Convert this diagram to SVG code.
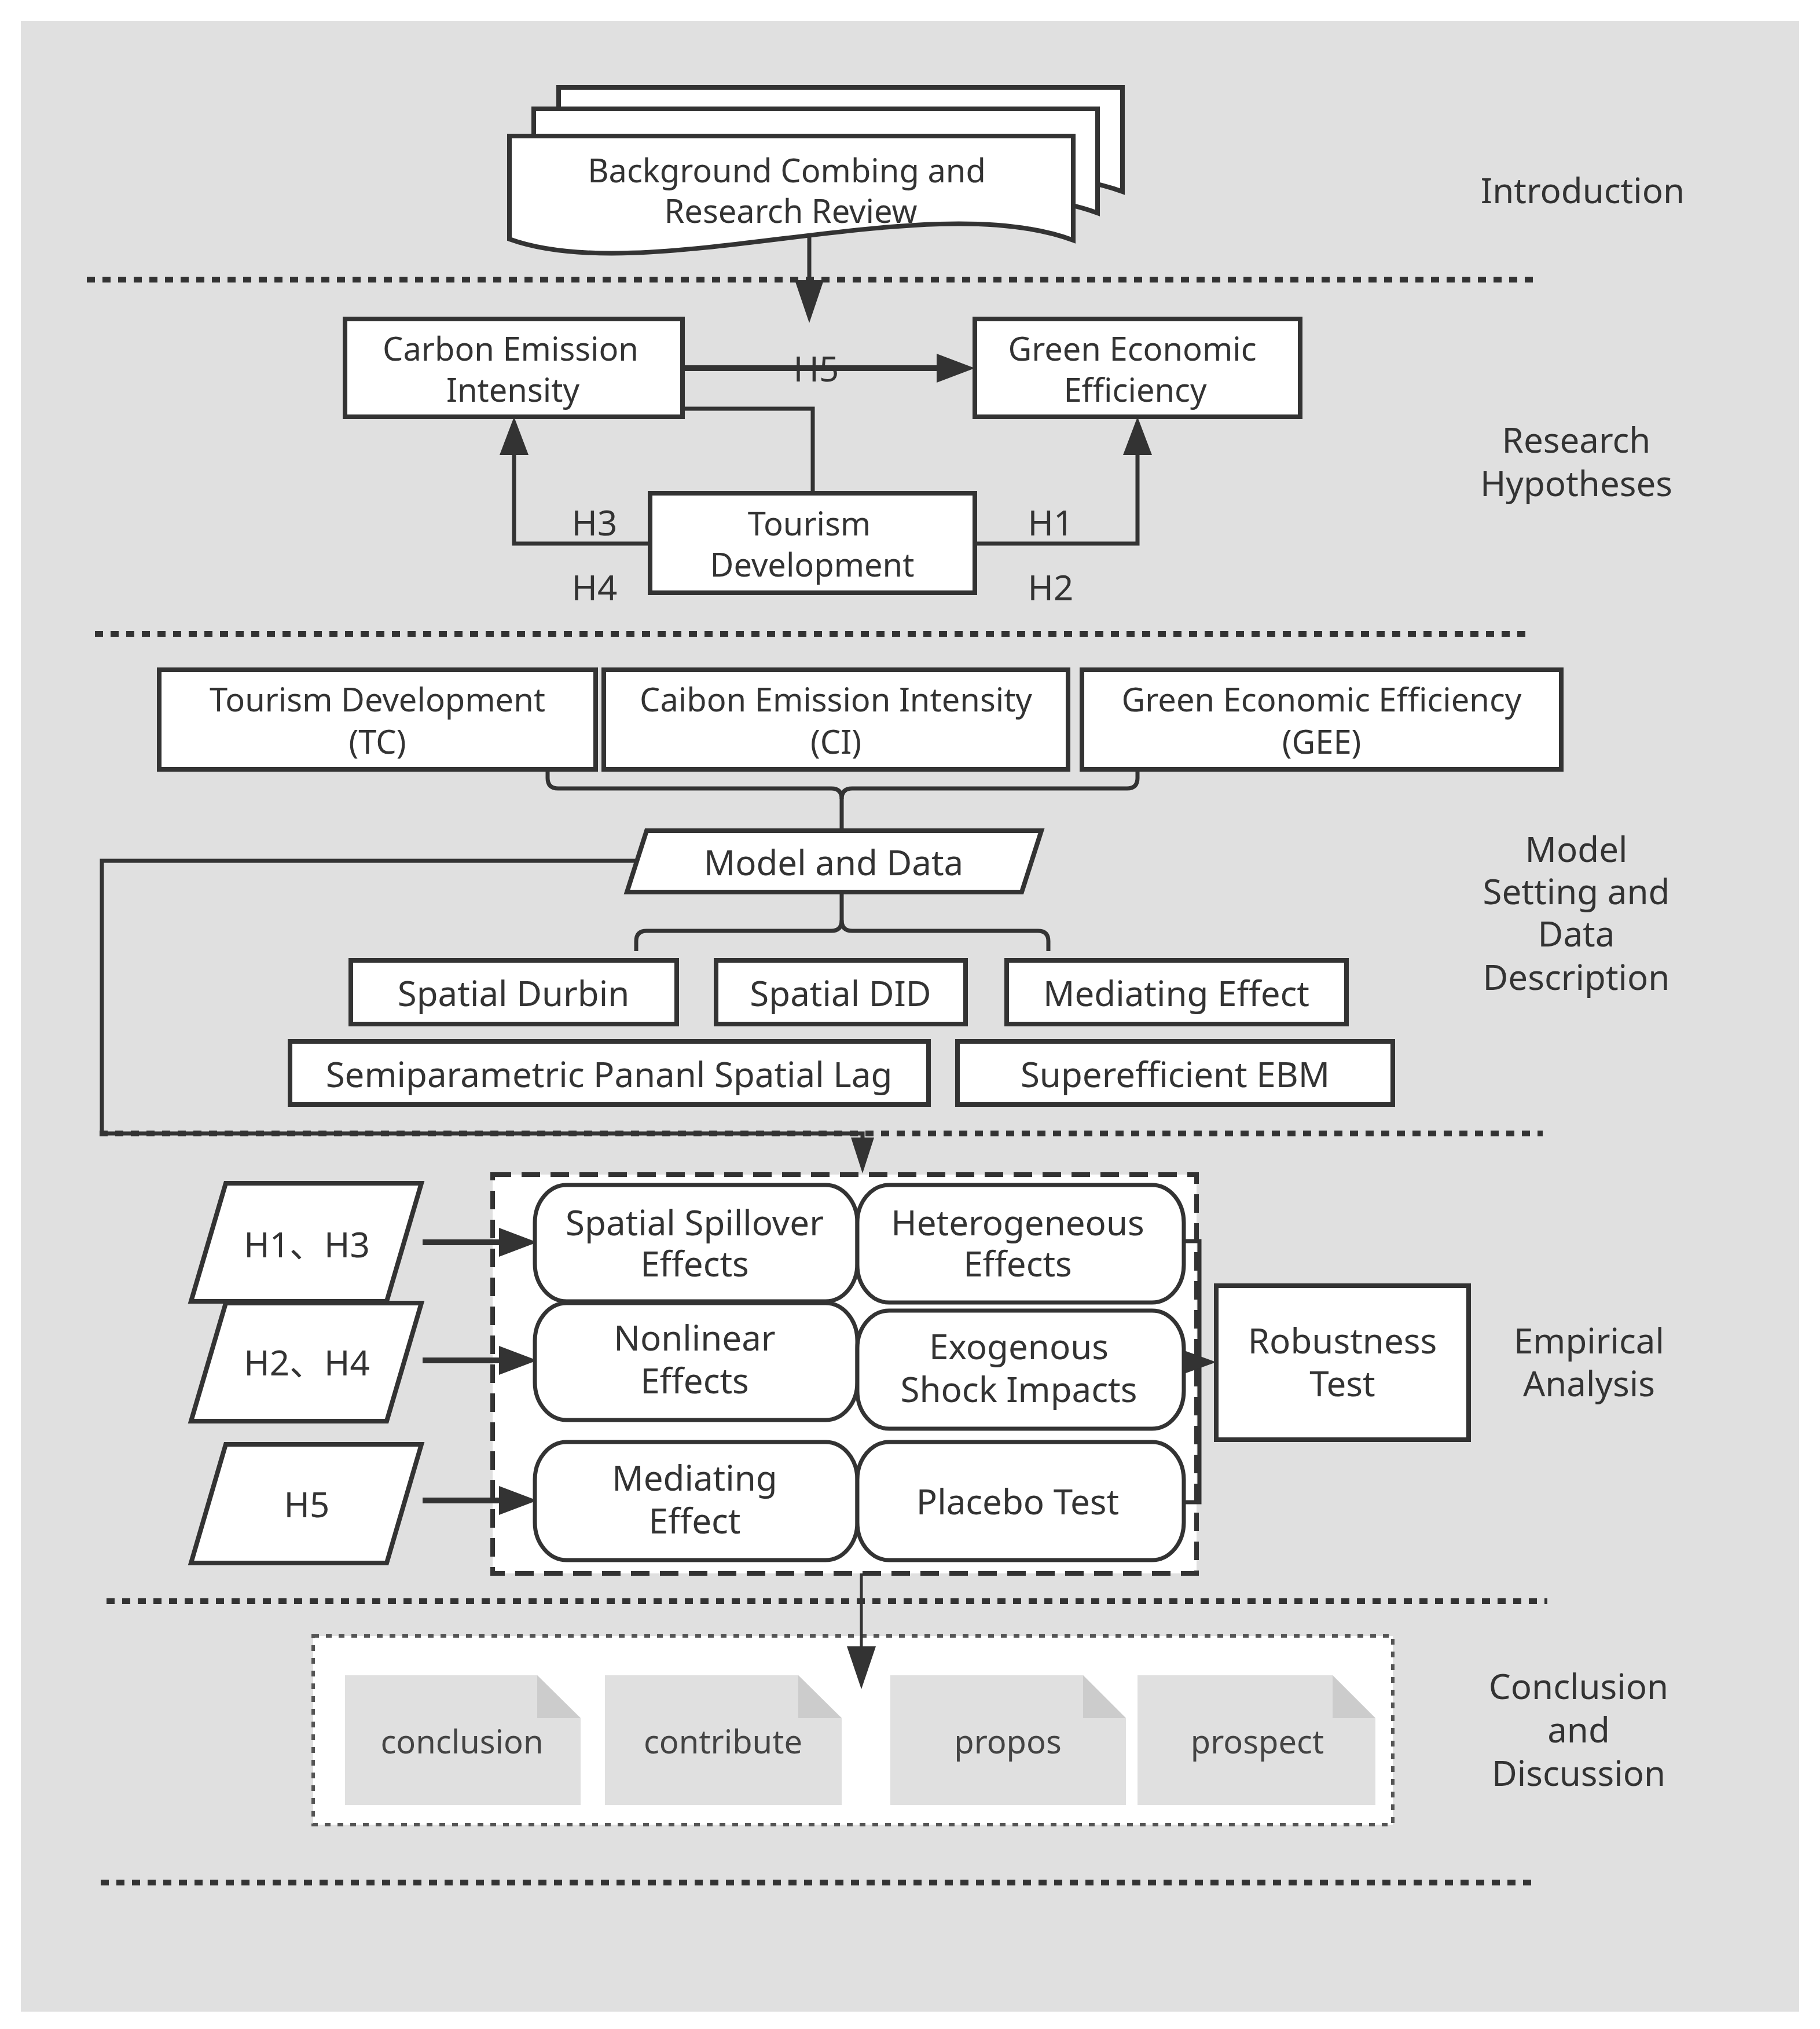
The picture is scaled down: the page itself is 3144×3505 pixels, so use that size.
<svg xmlns="http://www.w3.org/2000/svg" width="3144" height="3505" viewBox="0 0 3144 3505">
<style>
text{font-family:"Noto Sans","Open Sans","Noto Sans CJK SC",sans-serif;fill:#333;text-anchor:middle}
.t56{font-size:56px}
.t60{font-size:60px}
.box{fill:#fff;stroke:#333;stroke-width:8}
.rbox{fill:#fff;stroke:#333;stroke-width:7}
.sep{stroke:#333;stroke-width:10;stroke-dasharray:14 13;fill:none}
.con{stroke:#333;stroke-width:7;fill:none}
.doc{fill:#e0e0e0}
.fold{fill:#cccccc}
.dt{fill:#444}
</style>
<defs>
<marker id="aN" markerUnits="userSpaceOnUse" markerWidth="74" markerHeight="50" refX="0" refY="25" orient="auto"><path d="M0,0 L74,25 L0,50 Z" fill="#333"/></marker>
<marker id="aW" markerUnits="userSpaceOnUse" markerWidth="66" markerHeight="50" refX="0" refY="25" orient="auto"><path d="M0,0 L66,25 L0,50 Z" fill="#333"/></marker>
<marker id="aS" markerUnits="userSpaceOnUse" markerWidth="62" markerHeight="40" refX="0" refY="20" orient="auto"><path d="M0,0 L62,20 L0,40 Z" fill="#333"/></marker>
<marker id="aR" markerUnits="userSpaceOnUse" markerWidth="58" markerHeight="42" refX="0" refY="21" orient="auto"><path d="M0,0 L58,21 L0,42 Z" fill="#333"/></marker>
</defs>
<rect x="0" y="0" width="3144" height="3505" fill="#fff"/>
<rect x="36" y="36" width="3072" height="3439" fill="#e0e0e0"/>

<g id="separators">
<line class="sep" x1="150" y1="483" x2="2657" y2="483"/>
<line class="sep" x1="164" y1="1095" x2="2643" y2="1095"/>
<line class="sep" x1="172" y1="1958" x2="2665" y2="1958"/>
<line class="sep" x1="184" y1="2766" x2="2673" y2="2766"/>
<line class="sep" x1="174" y1="3252" x2="2657" y2="3252"/>
</g>

<g id="section-labels" class="t60">
<text x="2734" y="351">Introduction</text>
<text x="2723" y="782">Research</text>
<text x="2723" y="857">Hypotheses</text>
<text x="2723" y="1489">Model</text>
<text x="2723" y="1562">Setting and</text>
<text x="2723" y="1635">Data</text>
<text x="2723" y="1710">Description</text>
<text x="2745" y="2338">Empirical</text>
<text x="2745" y="2412">Analysis</text>
<text x="2727" y="2935">Conclusion</text>
<text x="2727" y="3010">and</text>
<text x="2727" y="3085">Discussion</text>
</g>

<g id="n-empirical-group">
<rect x="851" y="2029" width="1216" height="689" fill="#fff" stroke="#333" stroke-width="8" stroke-dasharray="32 18"/>
</g>
<g id="n-conclusion-group">
<rect x="541" y="2826" width="1865" height="326" fill="#fff" stroke="#555" stroke-width="6" stroke-dasharray="10 12"/>
</g>

<g id="n-background">
<path class="box" d="M965,151 H1939 V331 C1685,236 1205,416 965,329 Z"/>
<path class="box" d="M922,188 H1896 V368 C1642,273 1162,453 922,366 Z"/>
<path class="box" d="M880,235 H1854 V415 C1600,320 1120,500 880,413 Z"/>
<text class="t56" x="1359" y="315">Background Combing and</text>
<text class="t56" x="1366" y="385">Research Review</text>
</g>

<g id="connectors">
<line class="con" x1="1398" y1="405" x2="1398" y2="484" marker-end="url(#aN)"/>
<line class="con" style="stroke-width:10" x1="1179" y1="636" x2="1618" y2="636" marker-end="url(#aW)"/>
<path class="con" d="M1179,706 H1404 V852"/>
<path class="con" d="M1123,939 H888 V786" marker-end="url(#aW)"/>
<path class="con" d="M1684,939 H1965 V786" marker-end="url(#aW)"/>
<path class="con" d="M946,1329 V1344 Q946,1362 964,1362 H1436 Q1454,1362 1454,1380 V1435"/>
<path class="con" d="M1965,1329 V1344 Q1965,1362 1947,1362 H1472 Q1454,1362 1454,1380"/>
<path class="con" d="M1454,1541 V1590 Q1454,1608 1436,1608 H1117 Q1099,1608 1099,1626 V1643"/>
<path class="con" d="M1454,1590 Q1454,1608 1472,1608 H1793 Q1811,1608 1811,1626 V1643"/>
<path class="con" d="M1100,1487 H176 V1958 H1490 V1965" marker-end="url(#aS)"/>
<line class="con" style="stroke-width:10" x1="730" y1="2146" x2="862" y2="2146" marker-end="url(#aW)"/>
<line class="con" style="stroke-width:10" x1="730" y1="2350" x2="862" y2="2350" marker-end="url(#aW)"/>
<line class="con" style="stroke-width:10" x1="730" y1="2592" x2="862" y2="2592" marker-end="url(#aW)"/>
<path class="con" d="M2045,2144 H2072 V2595 H2045"/>
<path class="con" style="stroke-width:4" d="M2042,2353 H2043" marker-end="url(#aR)"/>
<line class="con" style="stroke-width:5" x1="1488" y1="2718" x2="1488" y2="2844" marker-end="url(#aN)"/>
</g>

<g id="n-cei">
<rect class="box" x="596" y="551" width="583" height="169"/>
<text class="t56" x="882" y="623">Carbon Emission</text>
<text class="t56" x="886" y="694">Intensity</text>
</g>
<g id="n-gee">
<rect class="box" x="1684" y="551" width="562" height="169"/>
<text class="t56" x="1956" y="623">Green Economic</text>
<text class="t56" x="1961" y="694">Efficiency</text>
</g>
<g id="n-td">
<rect class="box" x="1123" y="852" width="561" height="172"/>
<text class="t56" x="1398" y="925">Tourism</text>
<text class="t56" x="1403" y="996">Development</text>
</g>
<g id="hyp-labels" class="t60">
<text x="1410" y="659">H5</text>
<text x="1027" y="925">H3</text>
<text x="1027" y="1037">H4</text>
<text x="1815" y="925">H1</text>
<text x="1815" y="1037">H2</text>
</g>

<g id="n-tc">
<rect class="box" x="275" y="1157" width="754" height="172"/>
<text class="t56" x="652" y="1229">Tourism Development</text>
<text class="t56" x="652" y="1302">(TC)</text>
</g>
<g id="n-ci">
<rect class="box" x="1043" y="1157" width="802" height="172"/>
<text class="t56" x="1444" y="1229">Caibon Emission Intensity</text>
<text class="t56" x="1444" y="1302">(CI)</text>
</g>
<g id="n-gee2">
<rect class="box" x="1869" y="1157" width="828" height="172"/>
<text class="t56" x="2283" y="1229">Green Economic Efficiency</text>
<text class="t56" x="2283" y="1302">(GEE)</text>
</g>
<g id="n-model">
<polygon class="box" points="1117,1435 1799,1435 1765,1541 1083,1541"/>
<text class="t60" x="1440" y="1512">Model and Data</text>
</g>
<g id="n-sd">
<rect class="box" x="606" y="1659" width="563" height="110"/>
<text class="t60" x="887" y="1738">Spatial Durbin</text>
</g>
<g id="n-sdid">
<rect class="box" x="1237" y="1659" width="431" height="110"/>
<text class="t60" x="1452" y="1738">Spatial DID</text>
</g>
<g id="n-me">
<rect class="box" x="1739" y="1659" width="587" height="110"/>
<text class="t60" x="2032" y="1738">Mediating Effect</text>
</g>
<g id="n-spsl">
<rect class="box" x="501" y="1799" width="1103" height="109"/>
<text class="t60" x="1052" y="1878">Semiparametric Pananl Spatial Lag</text>
</g>
<g id="n-ebm">
<rect class="box" x="1654" y="1799" width="752" height="109"/>
<text class="t60" x="2030" y="1878">Superefficient EBM</text>
</g>

<g id="n-h13">
<polygon class="box" points="390,2044 728,2044 668,2248 330,2248"/>
<text class="t60" x="530" y="2172">H1、H3</text>
</g>
<g id="n-h24">
<polygon class="box" points="390,2251 728,2251 668,2455 330,2455"/>
<text class="t60" x="530" y="2376">H2、H4</text>
</g>
<g id="n-h5">
<polygon class="box" points="390,2495 728,2495 668,2700 330,2700"/>
<text class="t60" x="530" y="2621">H5</text>
</g>
<g id="n-sse">
<rect class="rbox" x="924" y="2047" width="557" height="201" rx="55" ry="65"/>
<text class="t60" x="1200" y="2134">Spatial Spillover</text>
<text class="t60" x="1200" y="2205">Effects</text>
</g>
<g id="n-he">
<rect class="rbox" x="1481" y="2047" width="564" height="203" rx="55" ry="65"/>
<text class="t60" x="1758" y="2134">Heterogeneous</text>
<text class="t60" x="1758" y="2205">Effects</text>
</g>
<g id="n-ne">
<rect class="rbox" x="924" y="2251" width="557" height="202" rx="55" ry="65"/>
<text class="t60" x="1200" y="2333">Nonlinear</text>
<text class="t60" x="1200" y="2407">Effects</text>
</g>
<g id="n-esi">
<rect class="rbox" x="1481" y="2264" width="564" height="204" rx="55" ry="65"/>
<text class="t60" x="1760" y="2348">Exogenous</text>
<text class="t60" x="1760" y="2422">Shock Impacts</text>
</g>
<g id="n-mef">
<rect class="rbox" x="924" y="2491" width="557" height="204" rx="55" ry="65"/>
<text class="t60" x="1200" y="2575">Mediating</text>
<text class="t60" x="1200" y="2649">Effect</text>
</g>
<g id="n-pt">
<rect class="rbox" x="1481" y="2491" width="564" height="204" rx="55" ry="65"/>
<text class="t60" x="1758" y="2616">Placebo Test</text>
</g>
<g id="n-rt">
<rect class="box" x="2101" y="2221" width="436" height="266"/>
<text class="t60" x="2319" y="2338">Robustness</text>
<text class="t60" x="2319" y="2412">Test</text>
</g>

<g id="n-conclusion">
<polygon class="doc" points="596,2894 928,2894 1003,2968 1003,3118 596,3118"/>
<polygon class="fold" points="928,2894 928,2968 1003,2968"/>
<text class="t56 dt" x="798" y="3029">conclusion</text>
</g>
<g id="n-contribute">
<polygon class="doc" points="1045,2894 1379,2894 1454,2968 1454,3118 1045,3118"/>
<polygon class="fold" points="1379,2894 1379,2968 1454,2968"/>
<text class="t56 dt" x="1249" y="3029">contribute</text>
</g>
<g id="n-propos">
<polygon class="doc" points="1538,2894 1871,2894 1945,2968 1945,3118 1538,3118"/>
<polygon class="fold" points="1871,2894 1871,2968 1945,2968"/>
<text class="t56 dt" x="1741" y="3029">propos</text>
</g>
<g id="n-prospect">
<polygon class="doc" points="1965,2894 2302,2894 2376,2968 2376,3118 1965,3118"/>
<polygon class="fold" points="2302,2894 2302,2968 2376,2968"/>
<text class="t56 dt" x="2172" y="3029">prospect</text>
</g>
</svg>
